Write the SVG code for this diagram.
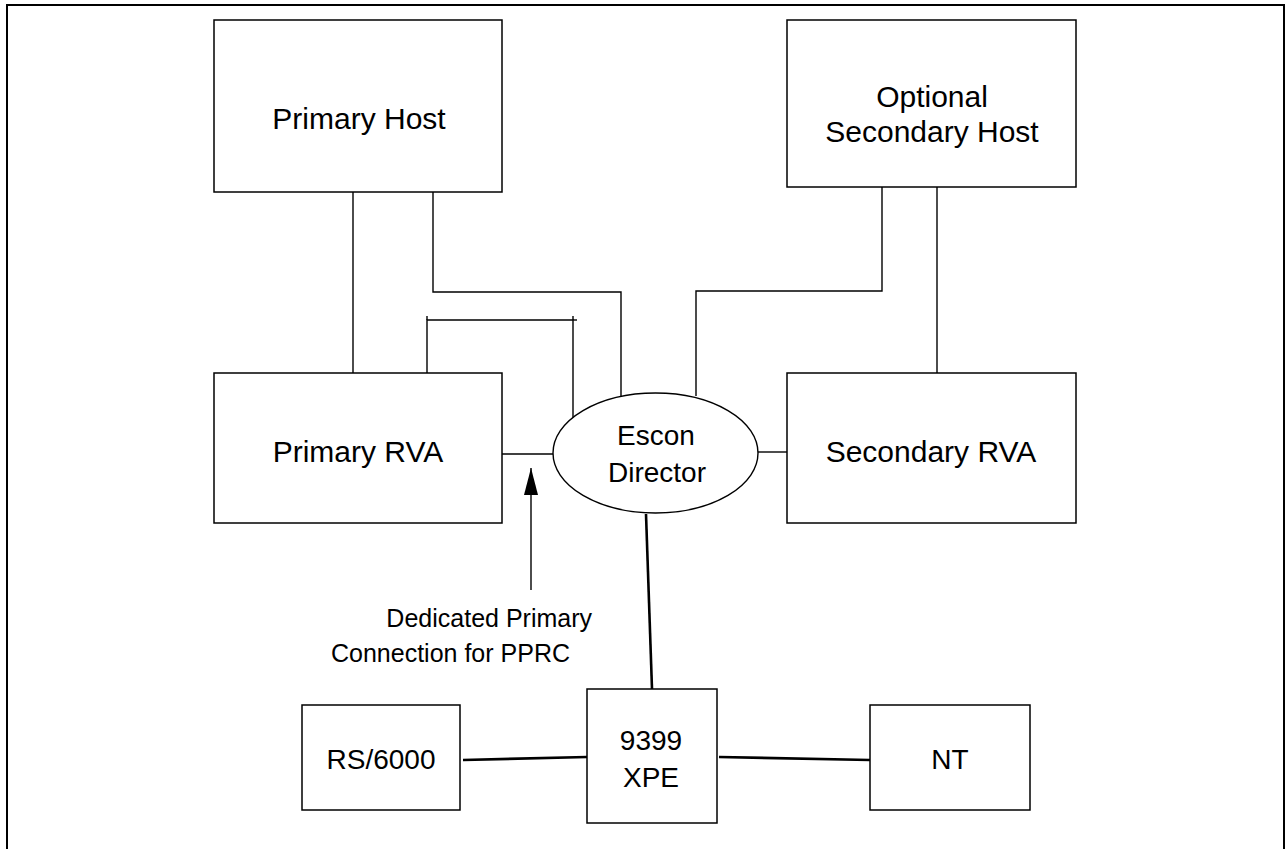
<svg xmlns="http://www.w3.org/2000/svg" width="1285" height="849" viewBox="0 0 1285 849">
<style>
.box{fill:#fff;stroke:#000;stroke-width:1.5}
.ln{fill:none;stroke:#000;stroke-width:1.4}
.thk{fill:none;stroke:#000;stroke-width:2.6}
.t{font-family:"Liberation Sans",Arial,sans-serif;fill:#000;text-anchor:middle}
.big{font-size:30px}
.mid{font-size:28px}
.sm{font-size:25px}
</style>
<defs>
<marker id="ah" markerWidth="27" markerHeight="14" refX="27" refY="7" orient="auto" markerUnits="userSpaceOnUse" viewBox="0 0 27 14">
<path d="M27,7 L0,0 L0,14 Z" fill="#000"/>
</marker>
</defs>
<rect x="7" y="5" width="1277" height="900" fill="#fff" stroke="#000" stroke-width="2"/>
<g id="connectors">
<line class="ln" x1="353" y1="192" x2="353" y2="373"/>
<polyline class="ln" points="433,192 433,292 621,292 621,398"/>
<polyline class="ln" points="427,373 427,320 573,320 573,420"/>
<line class="ln" x1="427" y1="316" x2="427" y2="320"/>
<line class="ln" x1="573" y1="316" x2="573" y2="320"/>
<line class="ln" x1="573" y1="320" x2="577" y2="320"/>
<polyline class="ln" points="696,396 696,291 882,291 882,187"/>
<line class="ln" x1="937" y1="187" x2="937" y2="373"/>
<line class="ln" x1="502" y1="454" x2="553" y2="454"/>
<line class="ln" x1="758" y1="452" x2="787" y2="452"/>
<line class="ln" x1="531" y1="590" x2="531" y2="468" marker-end="url(#ah)"/>
<line class="thk" x1="646" y1="514" x2="652" y2="689"/>
<line class="thk" x1="463" y1="760" x2="587" y2="757"/>
<line class="thk" x1="719" y1="757" x2="870" y2="760"/>
</g>
<g id="primary-host">
<rect class="box" x="214" y="20" width="288" height="172"/>
<text class="t big" x="359" y="129">Primary Host</text>
</g>
<g id="secondary-host">
<rect class="box" x="787" y="20" width="289" height="167"/>
<text class="t big" x="932" y="107">Optional</text>
<text class="t big" x="932" y="142">Secondary Host</text>
</g>
<g id="primary-rva">
<rect class="box" x="214" y="373" width="288" height="150"/>
<text class="t big" x="358" y="462">Primary RVA</text>
</g>
<g id="secondary-rva">
<rect class="box" x="787" y="373" width="289" height="150"/>
<text class="t big" x="931" y="462">Secondary RVA</text>
</g>
<g id="escon-director">
<ellipse cx="655.5" cy="453" rx="102.5" ry="60" fill="#fff" stroke="#000" stroke-width="1.4"/>
<text class="t mid" x="656" y="445">Escon</text>
<text class="t mid" x="657" y="482">Director</text>
</g>
<g id="label-pprc">
<text class="t sm" x="592" y="627" style="text-anchor:end">Dedicated Primary</text>
<text class="t sm" x="570" y="662" style="text-anchor:end">Connection for PPRC</text>
</g>
<g id="rs6000">
<rect class="box" x="302" y="705" width="158" height="105"/>
<text class="t mid" x="381" y="769">RS/6000</text>
</g>
<g id="xpe">
<rect class="box" x="587" y="689" width="130" height="134"/>
<text class="t mid" x="651" y="750">9399</text>
<text class="t mid" x="651" y="787">XPE</text>
</g>
<g id="nt">
<rect class="box" x="870" y="705" width="160" height="105"/>
<text class="t mid" x="950" y="769">NT</text>
</g>
</svg>
